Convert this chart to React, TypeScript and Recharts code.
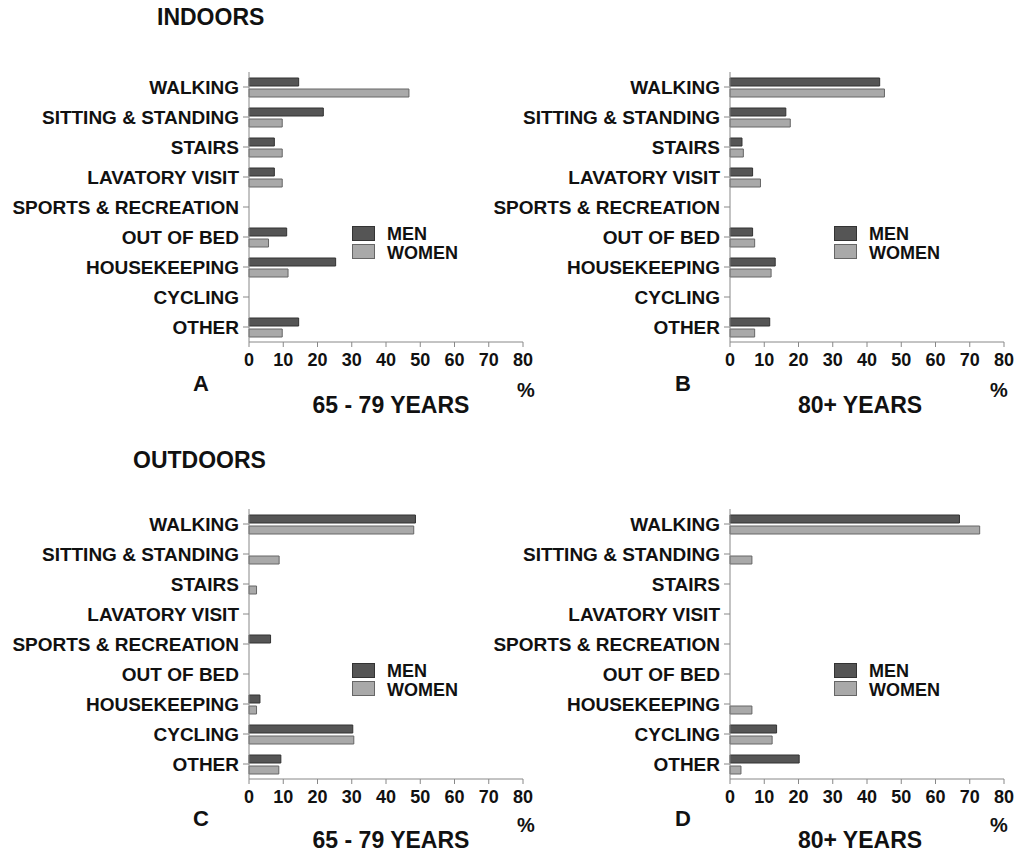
import React from 'react';
import { BarChart, Bar, XAxis, YAxis, Legend } from 'recharts';

const categories = ['WALKING', 'SITTING & STANDING', 'STAIRS', 'LAVATORY VISIT', 'SPORTS & RECREATION', 'OUT OF BED', 'HOUSEKEEPING', 'CYCLING', 'OTHER'];
const xTicks = [0, 10, 20, 30, 40, 50, 60, 70, 80];

const indoorYoungMen = [14.5, 21.7, 7.4, 7.4, 0, 11, 25.3, 0, 14.5];
const indoorYoungWomen = [46.7, 9.7, 9.7, 9.7, 0, 5.7, 11.4, 0, 9.7];
const indoorOldMen = [43.7, 16.3, 3.5, 6.6, 0, 6.6, 13.2, 0, 11.6];
const indoorOldWomen = [45.1, 17.6, 3.9, 8.9, 0, 7.2, 12, 0, 7.2];
const outdoorYoungMen = [48.6, 0, 0, 0, 6.3, 0, 3.2, 30.3, 9.3];
const outdoorYoungWomen = [48.1, 8.8, 2.2, 0, 0, 0, 2.2, 30.6, 8.7];
const outdoorOldMen = [67, 0, 0, 0, 0, 0, 0, 13.6, 20.2];
const outdoorOldWomen = [72.9, 6.4, 0, 0, 0, 0, 6.4, 12.3, 3.2];

const FONT = '"Liberation Sans", Arial, Helvetica, sans-serif';
const MEN_FILL = '#555555';
const MEN_STROKE = '#333333';
const WOMEN_FILL = '#a9a9a9';
const WOMEN_STROKE = '#666666';
const AXIS = '#888888';

function build(men: number[], women: number[]) {
  return categories.map((name, i) => ({ name, men: men[i], women: women[i] }));
}

const LegendBox = () => (
  <svg width={140} height={42} style={{ display: 'block', overflow: 'visible' }}>
    <rect x={0.5} y={0.5} width={22} height={14} fill={MEN_FILL} stroke={MEN_STROKE} />
    <text x={35} y={14} fontFamily={FONT} fontWeight="bold" fontSize={18} fill="#111">MEN</text>
    <rect x={0.5} y={18.5} width={22} height={14} fill={WOMEN_FILL} stroke={WOMEN_STROKE} />
    <text x={35} y={33} fontFamily={FONT} fontWeight="bold" fontSize={18} fill="#111">WOMEN</text>
  </svg>
);

type PanelProps = {
  left: number;
  top: number;
  width: number;
  yWidth: number;
  men: number[];
  women: number[];
  legendLeft: number;
};

const Panel = ({ left, top, width, yWidth, men, women, legendLeft }: PanelProps) => (
  <div style={{ position: 'absolute', left, top }}>
    <BarChart
      width={width}
      height={380}
      layout="vertical"
      data={build(men, women)}
      margin={{ top: 72, right: width - yWidth - 274, bottom: 8, left: 0 }}
      barSize={8}
      barGap={3}
    >
      <XAxis
        type="number"
        domain={[0, 80]}
        ticks={xTicks}
        interval={0}
        height={30}
        stroke={AXIS}
        tickSize={5}
        tickMargin={6}
        tick={{ fill: '#111', fontSize: 18, fontWeight: 'bold', fontFamily: FONT }}
      />
      <YAxis
        type="category"
        dataKey="name"
        width={yWidth}
        interval={0}
        stroke={AXIS}
        tickSize={6}
        tickMargin={4}
        tick={{ fill: '#111', fontSize: 19, fontWeight: 'bold', fontFamily: FONT }}
      />
      <Legend
        layout="vertical"
        align="center"
        verticalAlign="middle"
        content={() => <LegendBox />}
        wrapperStyle={{ left: legendLeft, top: 226, width: 140, height: 42 }}
      />
      <Bar dataKey="men" name="MEN" fill={MEN_FILL} stroke={MEN_STROKE} strokeWidth={1} isAnimationActive={false} />
      <Bar dataKey="women" name="WOMEN" fill={WOMEN_FILL} stroke={WOMEN_STROKE} strokeWidth={1} isAnimationActive={false} />
    </BarChart>
  </div>
);

const T = ({ x, y, size, children, anchor }: { x: number; y: number; size: number; children: React.ReactNode; anchor?: string }) => (
  <text x={x} y={y} fontSize={size} fontFamily={FONT} fontWeight="bold" fill="#111" textAnchor={anchor || 'start'}>
    {children}
  </text>
);

export default function App() {
  return (
    <div style={{ position: 'absolute', left: 0, top: 0, width: 1019, height: 856, background: '#fff', overflow: 'hidden' }}>
      <Panel left={0} top={0} width={540} yWidth={249} men={indoorYoungMen} women={indoorYoungWomen} legendLeft={352} />
      <Panel left={490} top={0} width={529} yWidth={240} men={indoorOldMen} women={indoorOldWomen} legendLeft={344} />
      <Panel left={0} top={437} width={540} yWidth={249} men={outdoorYoungMen} women={outdoorYoungWomen} legendLeft={352} />
      <Panel left={490} top={437} width={529} yWidth={240} men={outdoorOldMen} women={outdoorOldWomen} legendLeft={344} />
      <svg width={1019} height={856} style={{ position: 'absolute', left: 0, top: 0, pointerEvents: 'none' }}>
        <T x={157} y={25} size={23}>INDOORS</T>
        <T x={133} y={468} size={23}>OUTDOORS</T>

        <T x={193} y={391} size={22}>A</T>
        <T x={391} y={413} size={23} anchor="middle">65 - 79 YEARS</T>
        <T x={517} y={397} size={20}>%</T>

        <T x={675} y={391} size={22}>B</T>
        <T x={860} y={413} size={23} anchor="middle">80+ YEARS</T>
        <T x={990} y={397} size={20}>%</T>

        <T x={193} y={826} size={22}>C</T>
        <T x={391} y={848} size={23} anchor="middle">65 - 79 YEARS</T>
        <T x={517} y={832} size={20}>%</T>

        <T x={675} y={826} size={22}>D</T>
        <T x={860} y={848} size={23} anchor="middle">80+ YEARS</T>
        <T x={990} y={832} size={20}>%</T>
      </svg>
    </div>
  );
}
